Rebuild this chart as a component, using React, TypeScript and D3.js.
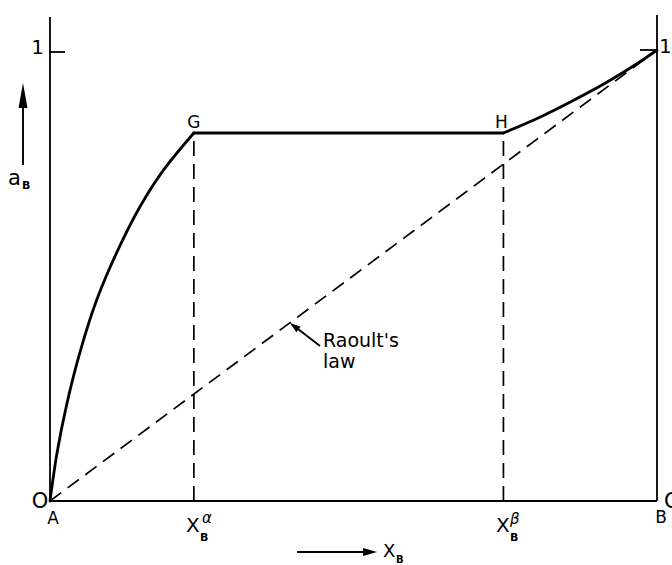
import React from "react";
import * as d3 from "d3";

// Activity of B across the A–B system with a miscibility gap (α + β)
const alphaX = [0, 0.0115, 0.028, 0.049, 0.077, 0.112, 0.148, 0.186, 0.237];
const alphaA = [0, 0.106, 0.217, 0.328, 0.446, 0.557, 0.652, 0.732, 0.816];
const plateauX = [0.237, 0.747];
const plateauA = [0.816, 0.816];
const betaX = [0.747, 0.807, 0.862, 0.918, 0.972, 1];
const betaA = [0.816, 0.851, 0.888, 0.929, 0.974, 1];
const raoultX = [0, 1];
const raoultA = [0, 1];
const gapX = [0.237, 0.747]; // X_B^α, X_B^β
const gapA = 0.816;

const W = 672;
const H = 565;
const FONT = "'DejaVu Sans', sans-serif";

// filled arrowhead pointing from (x0,y0) toward (x1,y1), tip at (x1,y1)
function head(x0: number, y0: number, x1: number, y1: number, len: number, half: number) {
  const dx = x1 - x0;
  const dy = y1 - y0;
  const d = Math.hypot(dx, dy);
  const ux = dx / d;
  const uy = dy / d;
  const bx = x1 - ux * len;
  const by = y1 - uy * len;
  return `M${x1},${y1} L${bx - uy * half},${by + ux * half} L${bx + uy * half},${by - ux * half} Z`;
}

export default function App() {
  const x = d3.scaleLinear().domain([0, 1]).range([50, 657]);
  const y = d3.scaleLinear().domain([0, 1]).range([501, 50]);

  const toPts = (xs: number[], as: number[]) => xs.map((v, i) => [v, as[i]] as [number, number]);
  const line = d3
    .line<[number, number]>()
    .x((d) => x(d[0]))
    .y((d) => y(d[1]));
  const smooth = d3
    .line<[number, number]>()
    .x((d) => x(d[0]))
    .y((d) => y(d[1]))
    .curve(d3.curveCatmullRom.alpha(0.5));

  const raoultAt = (t: number) => y(raoultA[0] + (raoultA[1] - raoultA[0]) * t);
  const annX = 0.395;
  const tipX = x(annX);
  const tipY = raoultAt(annX);

  return (
    <svg
      width={W}
      height={H}
      style={{ position: "absolute", left: 0, top: 0, background: "#fff" }}
      fontFamily={FONT}
    >
      {/* frame */}
      <g stroke="#000" strokeWidth={1.8} fill="none">
        <line x1={x(0)} x2={x(0)} y1={17} y2={y(0)} />
        <line x1={x(1)} x2={x(1)} y1={15} y2={y(0)} />
        <line x1={x(0)} x2={x(1)} y1={y(0)} y2={y(0)} />
        <line x1={x(0)} x2={x(0) + 15} y1={y(1) + 2} y2={y(1) + 2} />
        <line x1={x(1) - 17} x2={x(1)} y1={y(1)} y2={y(1)} />
      </g>

      {/* Raoult's law */}
      <path
        d={line(toPts(raoultX, raoultA)) || ""}
        stroke="#000"
        strokeWidth={1.7}
        strokeDasharray="14 8"
        fill="none"
      />

      {/* phase boundaries */}
      {gapX.map((g, i) => (
        <line
          key={i}
          x1={x(g)}
          x2={x(g)}
          y1={y(0)}
          y2={y(gapA)}
          stroke="#000"
          strokeWidth={1.7}
          strokeDasharray="15 8"
        />
      ))}

      {/* activity curve */}
      <g stroke="#000" strokeWidth={2.8} fill="none" strokeLinejoin="round" strokeLinecap="round">
        <path d={smooth(toPts(alphaX, alphaA)) || ""} />
        <path d={line(toPts(plateauX, plateauA)) || ""} />
        <path d={smooth(toPts(betaX, betaA)) || ""} />
      </g>

      {/* labels */}
      <g fill="#000">
        <text x={44} y={54} fontSize={20} textAnchor="end">1</text>
        <text x={659} y={53} fontSize={20}>1</text>
        <text x={40} y={508} fontSize={21} textAnchor="middle">O</text>
        <text x={664} y={508} fontSize={21}>O</text>
        <text x={53} y={524} fontSize={17} textAnchor="middle">A</text>
        <text x={661} y={523} fontSize={17} textAnchor="middle">B</text>
        <text x={x(gapX[0])} y={128} fontSize={17} textAnchor="middle">G</text>
        <text x={x(gapX[1]) - 2} y={128} fontSize={17} textAnchor="middle">H</text>

        <text x={186} y={532} fontSize={20}>X</text>
        <text x={200} y={541} fontSize={11} fontWeight="bold">B</text>
        <text x={202} y={523} fontSize={15} fontStyle="italic">α</text>

        <text x={496} y={532} fontSize={20}>X</text>
        <text x={510} y={541} fontSize={11} fontWeight="bold">B</text>
        <text x={510} y={524} fontSize={15} fontStyle="italic">β</text>

        <text x={8} y={185} fontSize={21}>a</text>
        <text x={22} y={189} fontSize={11} fontWeight="bold">B</text>

        <text x={383} y={557} fontSize={18}>X</text>
        <text x={396} y={563} fontSize={10} fontWeight="bold">B</text>

        <text x={323} y={347} fontSize={19}>Raoult's</text>
        <text x={323} y={368} fontSize={19}>law</text>
      </g>

      {/* arrows */}
      <g stroke="#000" strokeWidth={1.9} fill="none">
        <line x1={23} y1={165} x2={23} y2={100} />
        <line x1={297} y1={552} x2={366} y2={552} />
        <line x1={320} y1={346} x2={tipX + 4} y2={tipY + 3} />
      </g>
      <g fill="#000">
        <path d={head(23, 165, 23, 83, 25, 4.5)} />
        <path d={head(297, 552, 377, 552, 14, 4)} />
        <path d={head(320, 346, tipX, tipY, 11, 3.5)} />
      </g>
    </svg>
  );
}
